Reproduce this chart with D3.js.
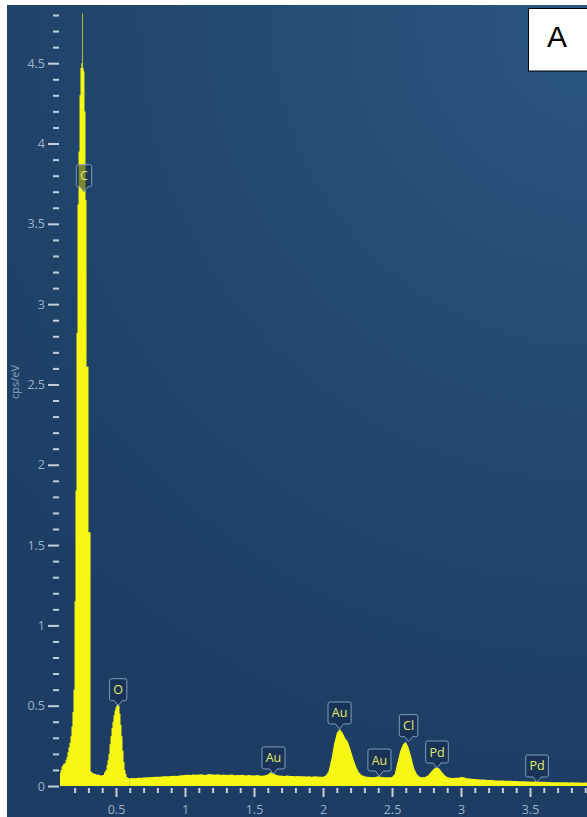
<!DOCTYPE html>
<html>
<head>
<meta charset="utf-8">
<script src="https://cdn.jsdelivr.net/npm/d3@7"></script>
<style>
  html, body { margin: 0; padding: 0; background: #ffffff; }
  svg { display: block; }
</style>
</head>
<body>
<svg id="chart" width="587" height="817"></svg>
<script>
// ---- EDS spectrum data (energy in keV, intensity in cps/eV) ----

// Low-energy region (C Kα and O Kα), channel centres
const lowEnergyKeV = [
  0.094, 0.102, 0.109, 0.116, 0.123, 0.130, 0.138, 0.145, 0.152, 0.159,
  0.167, 0.174, 0.181, 0.188, 0.196, 0.203, 0.210, 0.217, 0.225, 0.232,
  0.239, 0.246, 0.252, 0.257, 0.262, 0.268, 0.275, 0.283, 0.290, 0.297,
  0.304, 0.312, 0.319, 0.326, 0.333, 0.341, 0.348, 0.362, 0.377, 0.391,
  0.406, 0.420, 0.428, 0.435, 0.442, 0.449, 0.457, 0.464, 0.471, 0.478,
  0.486, 0.493, 0.500, 0.507, 0.514, 0.522, 0.529, 0.536, 0.543, 0.551,
  0.558, 0.565, 0.572, 0.580, 0.590
];
const lowEnergyCps = [
  0.08, 0.10, 0.12, 0.13, 0.14, 0.14, 0.16, 0.18, 0.21, 0.24,
  0.27, 0.31, 0.37, 0.46, 0.60, 1.15, 1.84, 2.82, 3.62, 3.95,
  4.30, 4.47, 4.50, 4.81, 4.47, 4.45, 4.20, 3.65, 2.61, 2.61,
  1.58, 1.58, 0.09, 0.085, 0.080, 0.078, 0.075, 0.072, 0.070, 0.066,
  0.068, 0.085, 0.10, 0.13, 0.16, 0.20, 0.26, 0.31, 0.36, 0.40,
  0.44, 0.47, 0.49, 0.505, 0.51, 0.50, 0.45, 0.38, 0.31, 0.22,
  0.15, 0.10, 0.075, 0.056, 0.050
];

// Remaining spectrum: 0.02 keV channels starting at 0.60 keV
const channelStartKeV = 0.60;
const channelWidthKeV = 0.02;
const channelCps = [
  0.048, 0.050, 0.049, 0.052, 0.051, 0.053, 0.055, 0.054, 0.056, 0.057, // 0.60
  0.058, 0.057, 0.060, 0.061, 0.060, 0.063, 0.064, 0.062, 0.066, 0.067, // 0.80
  0.068, 0.070, 0.069, 0.072, 0.070, 0.071, 0.073, 0.069, 0.072, 0.074, // 1.00
  0.071, 0.070, 0.073, 0.069, 0.071, 0.068, 0.070, 0.072, 0.067, 0.069, // 1.20
  0.068, 0.070, 0.066, 0.069, 0.067, 0.065, 0.068, 0.066, 0.064, 0.067, // 1.40
  0.072, 0.085, 0.078, 0.070, 0.066, 0.064, 0.063, 0.065, 0.062, 0.063, // 1.60
  0.061, 0.062, 0.060, 0.061, 0.059, 0.060, 0.058, 0.060, 0.059, 0.058, // 1.80
  0.058, 0.065, 0.090, 0.165, 0.260, 0.330, 0.355, 0.335, 0.300, 0.275, // 2.00
  0.225, 0.170, 0.120, 0.085, 0.068, 0.060, 0.057, 0.056, 0.055, 0.056, // 2.20
  0.060, 0.058, 0.055, 0.054, 0.055, 0.056, 0.075, 0.150, 0.220, 0.260, // 2.40
  0.276, 0.240, 0.180, 0.110, 0.075, 0.058, 0.055, 0.056, 0.065, 0.085, // 2.60
  0.105, 0.118, 0.110, 0.090, 0.068, 0.056, 0.052, 0.050, 0.051, 0.052, // 2.80
  0.056, 0.054, 0.049, 0.046, 0.045, 0.043, 0.042, 0.041, 0.040, 0.039, // 3.00
  0.038, 0.037, 0.036, 0.035, 0.035, 0.034, 0.033, 0.033, 0.032, 0.031, // 3.20
  0.031, 0.030, 0.030, 0.029, 0.028, 0.028, 0.027, 0.029, 0.027, 0.026, // 3.40
  0.026, 0.025, 0.025, 0.024, 0.024, 0.023, 0.024, 0.023, 0.023, 0.022, // 3.60
  0.023, 0.022, 0.022, 0.022, 0.021, 0.022, 0.021                       // 3.80
];

// Element peak markers
const peakElements = ["C", "O", "Au", "Au", "Au", "Cl", "Pd", "Pd"];
const peakEnergyKeV = [0.268, 0.516, 1.641, 2.120, 2.409, 2.620, 2.826, 3.551];
const peakMarkerCps = [3.70, 0.50, 0.075, 0.355, 0.062, 0.276, 0.112, 0.025];

// Axis ticks
const xMajorTicks = [0.5, 1, 1.5, 2, 2.5, 3, 3.5];
const xTickLabels = ["0.5", "1", "1.5", "2", "2.5", "3", "3.5"];
const yMajorTicks = [0, 0.5, 1, 1.5, 2, 2.5, 3, 3.5, 4, 4.5];
const yTickLabels = ["0", "0.5", "1", "1.5", "2", "2.5", "3", "3.5", "4", "4.5"];
const yAxisTitle = "cps/eV";
const panelLetter = "A";

// ---- drawing ----
const svg = d3.select("#chart");
const W = 587, H = 817;
const panelLeft = 7, panelTop = 5;
const plotLeft = 60, plotRight = 587, plotBottom = 786, plotTop = 7;

const x = d3.scaleLinear().domain([0.0942, 3.913]).range([plotLeft, plotRight]);
const y = d3.scaleLinear().domain([0, 4.85]).range([plotBottom, plotTop]);

const defs = svg.append("defs");
const bg = defs.append("radialGradient")
  .attr("id", "bgGrad")
  .attr("gradientUnits", "userSpaceOnUse")
  .attr("cx", 600).attr("cy", 20).attr("r", 780);
bg.append("stop").attr("offset", "0%").attr("stop-color", "#2b5782");
bg.append("stop").attr("offset", "55%").attr("stop-color", "#22486f");
bg.append("stop").attr("offset", "100%").attr("stop-color", "#1d3d64");

defs.append("clipPath").attr("id", "plotClip")
  .append("rect")
  .attr("x", plotLeft).attr("y", panelTop)
  .attr("width", plotRight - plotLeft).attr("height", plotBottom - panelTop);

// panel background
svg.append("rect")
  .attr("x", panelLeft).attr("y", panelTop)
  .attr("width", W - panelLeft).attr("height", H - panelTop)
  .attr("fill", "url(#bgGrad)");

// spectrum points
const lowPoints = lowEnergyKeV.map((e, i) => [e, lowEnergyCps[i]]);
const channelPoints = channelCps.map((v, i) => [channelStartKeV + i * channelWidthKeV, v]);

const specFill = "#f7f714";
const plot = svg.append("g").attr("clip-path", "url(#plotClip)");

// narrow low-energy channels drawn as histogram steps
plot.append("path")
  .datum(lowPoints.concat([channelPoints[0]]))
  .attr("fill", specFill)
  .attr("d", d3.area()
    .x(d => x(d[0])).y0(y(0)).y1(d => y(d[1]))
    .curve(d3.curveStep));

// wider channels joined as a continuous trace
plot.append("path")
  .datum(channelPoints)
  .attr("fill", specFill)
  .attr("d", d3.area()
    .x(d => x(d[0])).y0(y(0)).y1(d => y(d[1]))
    .curve(d3.curveLinear));

// axes
const tickColor = "#c3cfdd";
const labelColor = "#9fb2c9";
const tickFont = "'Open Sans', 'Noto Sans', sans-serif";

const yMinor = d3.range(1, 49).map(i => i / 10).filter(v => Math.abs(v * 2 - Math.round(v * 2)) > 1e-6);
const xMinor = d3.range(2, 40).map(i => i / 10).filter(v => Math.abs(v * 2 - Math.round(v * 2)) > 1e-6);

function styleAxis(g) {
  g.select(".domain").remove();
  g.selectAll(".tick line").attr("stroke", tickColor).attr("stroke-width", 2);
  g.selectAll(".tick text")
    .attr("fill", labelColor)
    .style("font-family", tickFont)
    .style("font-size", "12.5px");
}

svg.append("g")
  .attr("transform", `translate(${plotLeft - 1},0)`)
  .call(d3.axisLeft(y).tickValues(yMinor).tickSize(6).tickFormat(""))
  .call(styleAxis);

svg.append("g")
  .attr("transform", `translate(${plotLeft - 1},0)`)
  .call(d3.axisLeft(y).tickValues(yMajorTicks).tickSize(11).tickPadding(3)
    .tickFormat((d, i) => yTickLabels[i]))
  .call(styleAxis);

svg.append("g")
  .attr("transform", `translate(0,${plotBottom + 2})`)
  .call(d3.axisBottom(x).tickValues(xMinor).tickSize(5).tickFormat(""))
  .call(styleAxis);

svg.append("g")
  .attr("transform", `translate(0,${plotBottom + 2})`)
  .call(d3.axisBottom(x).tickValues(xMajorTicks).tickSize(9).tickPadding(8)
    .tickFormat((d, i) => xTickLabels[i]))
  .call(styleAxis);

// y-axis title
svg.append("text")
  .attr("transform", "translate(19,382) rotate(-90)")
  .attr("text-anchor", "middle")
  .attr("fill", "#8ea4bf")
  .style("font-family", tickFont)
  .style("font-size", "11px")
  .text(yAxisTitle);

// element markers
const markers = svg.append("g");
peakElements.forEach((el, i) => {
  const tx = x(peakEnergyKeV[i]);
  const ty = y(peakMarkerCps[i]);
  const g = markers.append("g");
  const box = g.append("path");
  const txt = g.append("text")
    .attr("x", tx)
    .attr("text-anchor", "middle")
    .attr("fill", "#e4e96a")
    .style("font-family", tickFont)
    .style("font-size", "12.5px")
    .text(el);
  const len = txt.node().getComputedTextLength();
  const bw = Math.max(15, len + 7.5);
  const bh = 22, gap = 5, notch = 4, r = 2;
  const bottom = ty - gap, top = bottom - bh;
  const left = tx - bw / 2, right = tx + bw / 2;
  const p = d3.path();
  p.moveTo(left + r, top);
  p.lineTo(right - r, top);
  p.quadraticCurveTo(right, top, right, top + r);
  p.lineTo(right, bottom - r);
  p.quadraticCurveTo(right, bottom, right - r, bottom);
  p.lineTo(tx + notch, bottom);
  p.lineTo(tx, ty);
  p.lineTo(tx - notch, bottom);
  p.lineTo(left + r, bottom);
  p.quadraticCurveTo(left, bottom, left, bottom - r);
  p.lineTo(left, top + r);
  p.quadraticCurveTo(left, top, left + r, top);
  p.closePath();
  box.attr("d", p.toString())
    .attr("fill", "rgba(22,44,76,0.55)")
    .attr("stroke", "#7e9bbf")
    .attr("stroke-width", 1);
  txt.attr("y", (top + bottom) / 2).attr("dy", "0.36em");
});

// panel letter
svg.append("rect")
  .attr("x", 528.5).attr("y", 8.5)
  .attr("width", 70).attr("height", 62.5)
  .attr("fill", "#ffffff")
  .attr("stroke", "#000000")
  .attr("stroke-width", 1);
svg.append("text")
  .attr("x", 557).attr("y", 47)
  .attr("text-anchor", "middle")
  .attr("fill", "#000000")
  .style("font-family", "'Liberation Sans', Arial, sans-serif")
  .style("font-size", "30px")
  .text(panelLetter);
</script>
</body>
</html>
